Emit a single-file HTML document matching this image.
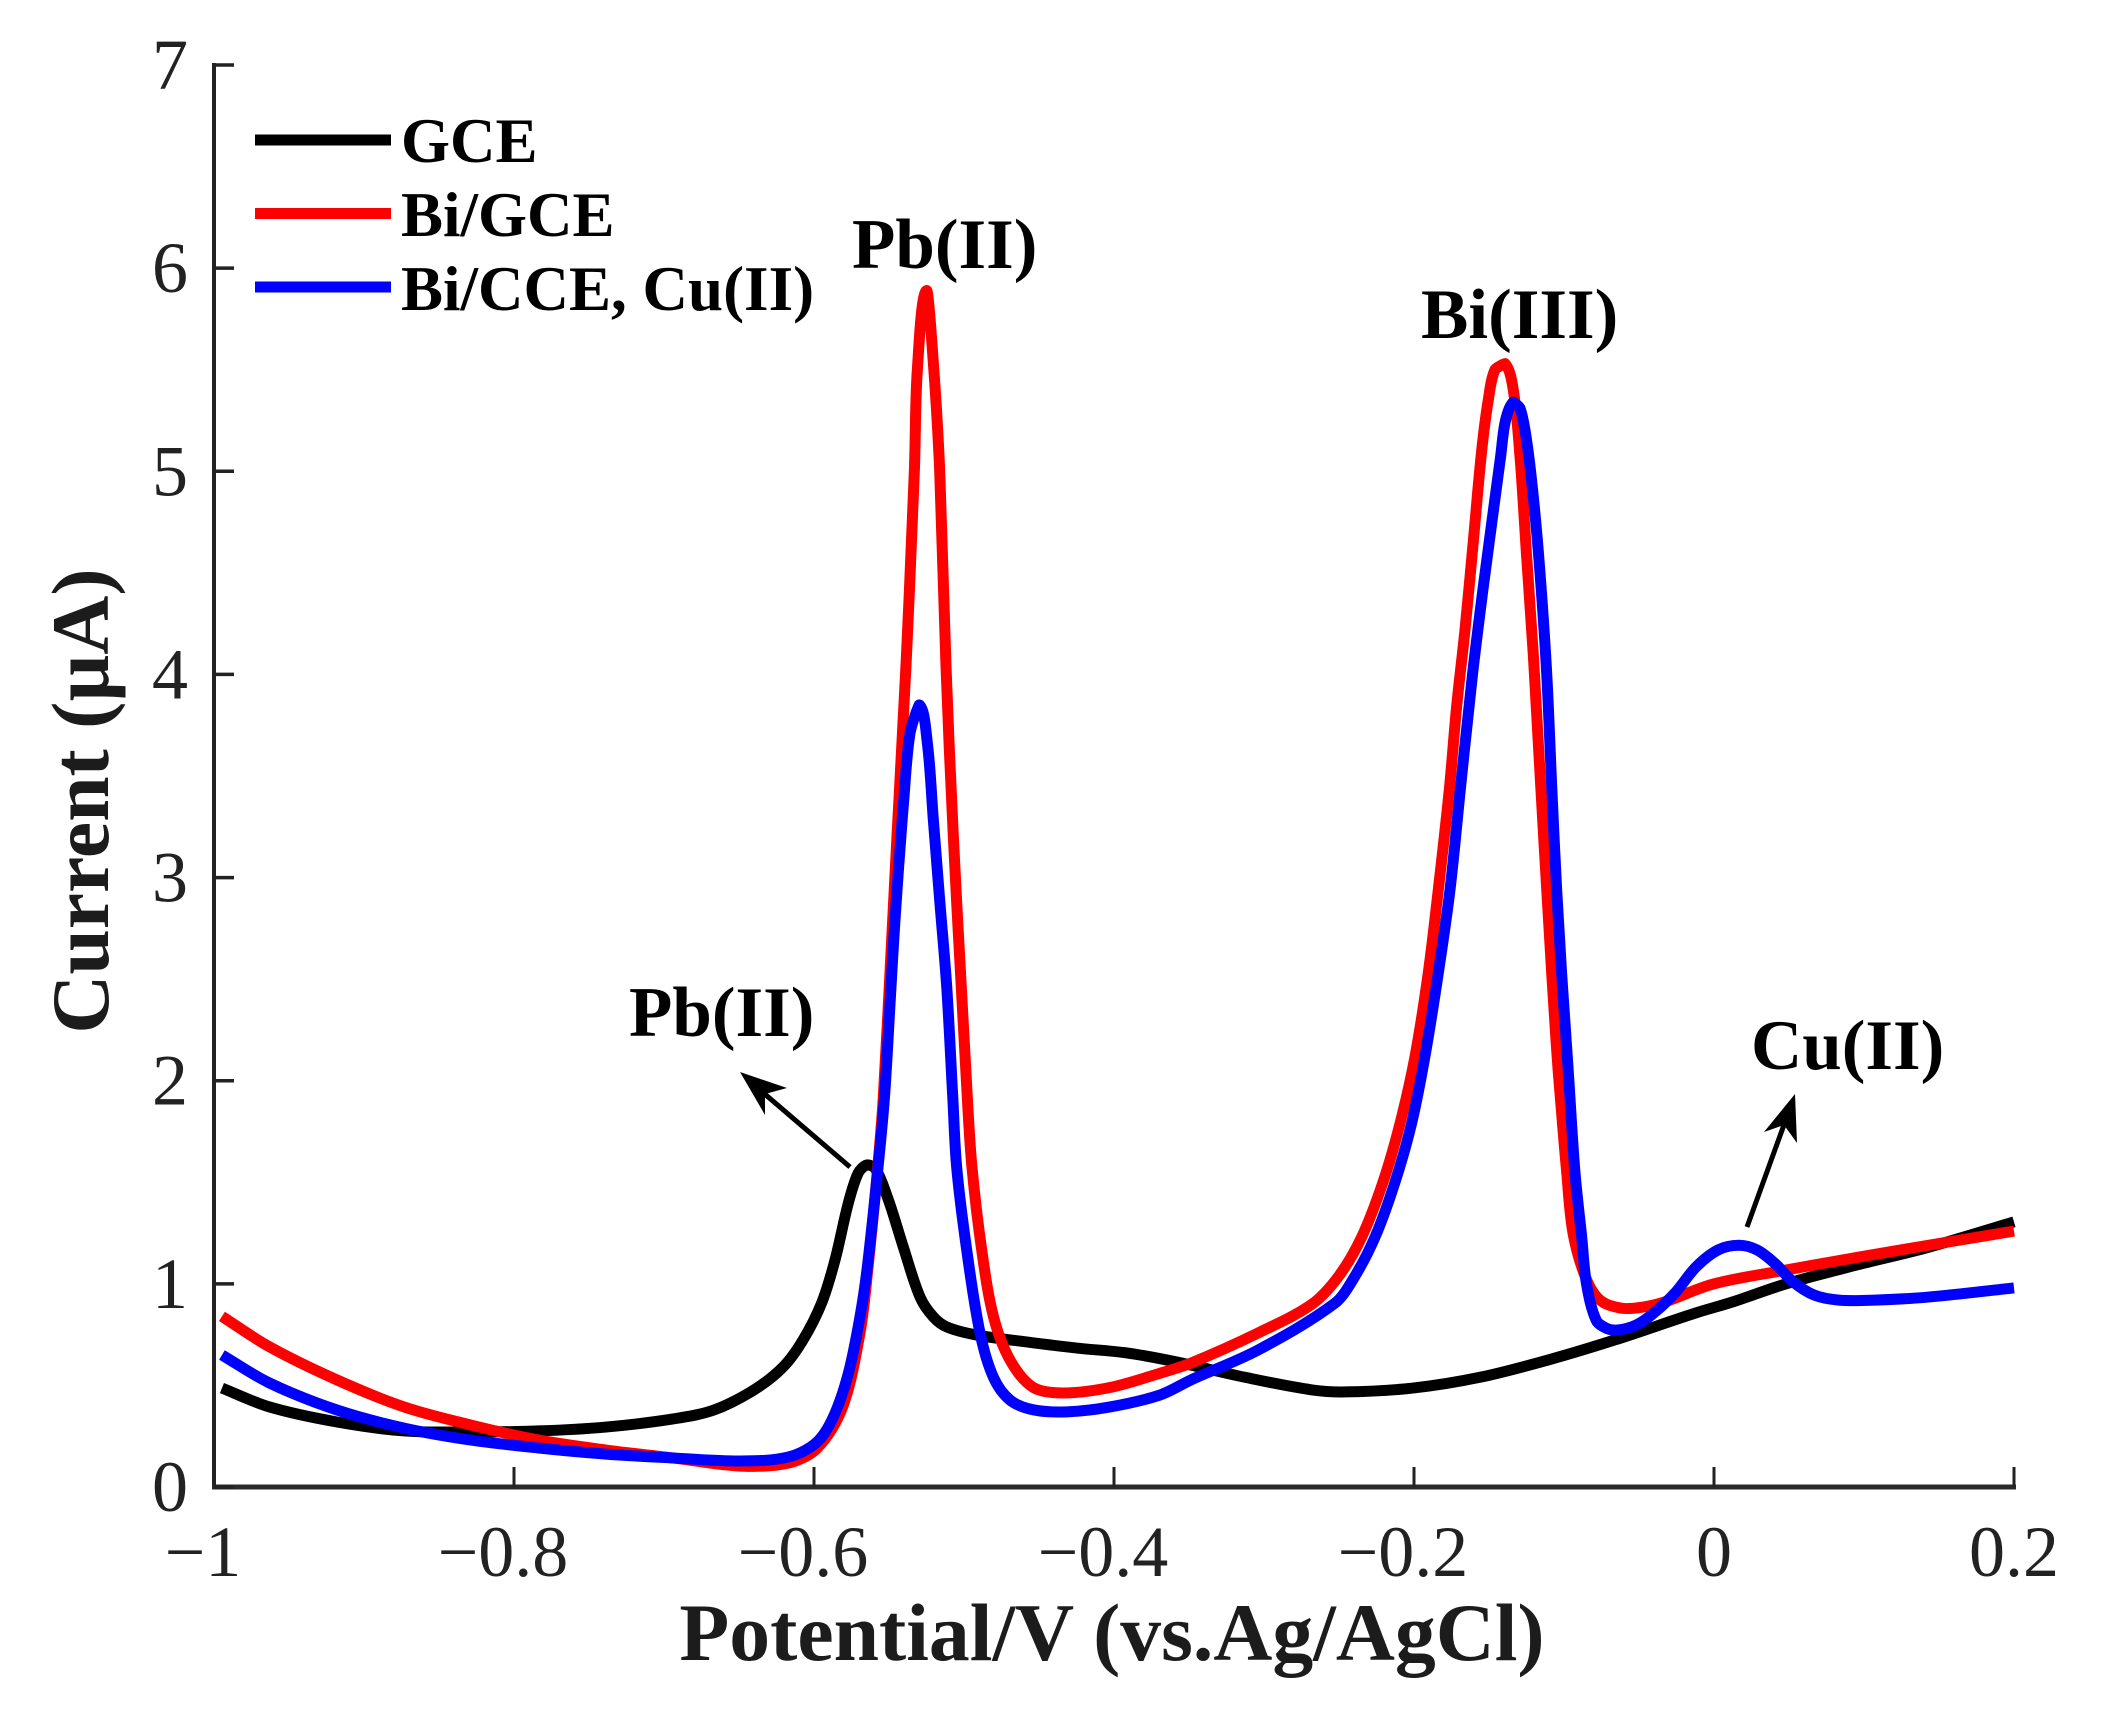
<!DOCTYPE html>
<html lang="en">
<head>
<meta charset="utf-8">
<title>Current vs potential chart</title>
<style>
html,body{margin:0;padding:0;background:#fff;width:2112px;height:1709px;overflow:hidden}
svg{display:block}
text{font-family:"Liberation Serif",serif}
.tick-label{font-size:72px;fill:#222}
.axis-title{font-size:81.7px;font-weight:bold;fill:#1c1c1c}
.legend-label{font-size:63px;font-weight:bold;fill:#000}
.annotation{font-size:71px;font-weight:bold;fill:#000}
</style>
</head>
<body>
<svg id="chart" xmlns="http://www.w3.org/2000/svg" width="2112" height="1709" viewBox="0 0 2112 1709">
  <g id="series-layer"></g>
  <g id="axes-layer"></g>

  <text class="axis-title" x="1112" y="1660" text-anchor="middle">Potential/V (vs.Ag/AgCl)</text>
  <text class="axis-title" transform="translate(108 801) rotate(-90)" text-anchor="middle">Current (µA)</text>

  <g>
    <g>
      <line x1="255" x2="391" y1="140" y2="140" stroke="#000" stroke-width="11"/>
      <text class="legend-label" x="401" y="162">GCE</text>
    </g>
    <g>
      <line x1="255" x2="391" y1="213.5" y2="213.5" stroke="#f00" stroke-width="11"/>
      <text class="legend-label" x="401" y="236">Bi/GCE</text>
    </g>
    <g>
      <line x1="255" x2="391" y1="287" y2="287" stroke="#00f" stroke-width="11"/>
      <text class="legend-label" x="401" y="310">Bi/CCE, Cu(II)</text>
    </g>
  </g>

  <text class="annotation" x="852" y="268">Pb(II)</text>
  <text class="annotation" x="1421" y="338">Bi(III)</text>
  <text class="annotation" x="629" y="1036">Pb(II)</text>
  <text class="annotation" x="1751" y="1069">Cu(II)</text>

  <g>
    <line x1="850" y1="1167" x2="760" y2="1090" stroke="#000" stroke-width="5"/>
    <polygon points="740,1072 787,1088 765,1094 765,1115" fill="#000"/>
  </g>
  <g>
    <line x1="1747" y1="1227" x2="1785" y2="1122" stroke="#000" stroke-width="5"/>
    <polygon points="1795,1094 1797,1143 1784,1125 1764,1132" fill="#000"/>
  </g>
</svg>
<script>
const xTicks = [-1, -0.8, -0.6, -0.4, -0.2, 0, 0.2];
const xTickLabels = ["−1", "−0.8", "−0.6", "−0.4", "−0.2", "0", "0.2"];
const yTicks = [0, 1, 2, 3, 4, 5, 6, 7];
const yTickLabels = ["0", "1", "2", "3", "4", "5", "6", "7"];

const gceX = [-0.9947,-0.963,-0.918,-0.8733,-0.8287,-0.7833,-0.7387,-0.694,-0.6667,-0.64,-0.6207,-0.6073,-0.5949,-0.586,-0.5771,-0.5705,-0.5649,-0.5593,-0.5504,-0.5404,-0.5293,-0.5204,-0.5115,-0.4915,-0.4582,-0.4249,-0.3915,-0.358,-0.3127,-0.268,-0.2453,-0.2007,-0.156,-0.1107,-0.066,-0.012,0.012,0.048,0.0953,0.143,0.2];
const gceY = [0.487,0.394,0.32,0.276,0.271,0.276,0.295,0.335,0.379,0.478,0.59,0.724,0.906,1.117,1.398,1.546,1.585,1.57,1.413,1.18,0.935,0.837,0.788,0.748,0.714,0.684,0.66,0.615,0.54,0.478,0.468,0.487,0.54,0.625,0.724,0.857,0.91,1.0,1.093,1.18,1.305];

const biGceX = [-0.9947,-0.963,-0.918,-0.8733,-0.8287,-0.7833,-0.7387,-0.694,-0.6487,-0.617,-0.598,-0.5811,-0.5693,-0.564,-0.5575,-0.5538,-0.5447,-0.5387,-0.5331,-0.5311,-0.5249,-0.5204,-0.5162,-0.512,-0.5071,-0.4977,-0.4947,-0.4882,-0.4804,-0.4693,-0.4538,-0.4338,-0.4027,-0.3693,-0.3487,-0.304,-0.268,-0.25,-0.2349,-0.2207,-0.2093,-0.1993,-0.1905,-0.1838,-0.1765,-0.1716,-0.166,-0.1604,-0.1549,-0.1505,-0.146,-0.1393,-0.1338,-0.1293,-0.1249,-0.1204,-0.1155,-0.1115,-0.1082,-0.1038,-0.0982,-0.094,-0.0855,-0.076,-0.0617,-0.0473,-0.0333,0,0.048,0.0953,0.143,0.2];
const biGceY = [0.84,0.69,0.527,0.394,0.305,0.231,0.182,0.143,0.103,0.118,0.19,0.39,0.76,1.08,1.575,1.92,3.2,4.04,5.0,5.5,5.89,5.53,5.0,4.04,3.2,1.905,1.575,1.167,0.84,0.625,0.49,0.463,0.49,0.56,0.61,0.758,0.9,1.04,1.23,1.5,1.79,2.12,2.53,2.94,3.43,3.84,4.22,4.66,5.1,5.35,5.5,5.53,5.4,5.07,4.58,4.09,3.45,2.94,2.53,2.04,1.55,1.25,1.03,0.92,0.88,0.886,0.91,1.0,1.068,1.13,1.19,1.26];

const biCceCuX = [-0.9947,-0.963,-0.918,-0.8733,-0.8287,-0.7833,-0.7387,-0.694,-0.6487,-0.617,-0.5982,-0.5871,-0.5771,-0.5693,-0.5645,-0.5573,-0.553,-0.5493,-0.5467,-0.5437,-0.5403,-0.536,-0.5298,-0.5244,-0.5204,-0.516,-0.5115,-0.5075,-0.5049,-0.4982,-0.4893,-0.4804,-0.4693,-0.4538,-0.4313,-0.4027,-0.3693,-0.3487,-0.304,-0.2527,-0.24,-0.226,-0.2127,-0.2016,-0.1927,-0.1838,-0.176,-0.1689,-0.161,-0.154,-0.149,-0.1423,-0.139,-0.1338,-0.1293,-0.1249,-0.1204,-0.116,-0.1115,-0.1082,-0.1049,-0.1016,-0.0971,-0.0927,-0.0882,-0.085,-0.0785,-0.0713,-0.064,-0.052,-0.0402,-0.026,-0.012,0.0027,0.0167,0.0287,0.0407,0.0527,0.0667,0.0833,0.107,0.143,0.2];
const biCceCuY = [0.65,0.512,0.379,0.29,0.231,0.192,0.162,0.143,0.128,0.148,0.22,0.345,0.56,0.84,1.08,1.575,1.92,2.38,2.71,3.04,3.37,3.71,3.85,3.66,3.28,2.87,2.46,1.92,1.575,1.167,0.758,0.54,0.428,0.38,0.37,0.394,0.453,0.527,0.674,0.905,1.03,1.23,1.5,1.79,2.12,2.53,2.94,3.45,4.0,4.42,4.7,5.07,5.25,5.34,5.31,5.15,4.87,4.5,4.0,3.45,2.94,2.53,2.04,1.55,1.23,1.0,0.82,0.78,0.773,0.797,0.856,0.955,1.083,1.167,1.19,1.167,1.1,1.01,0.945,0.92,0.92,0.935,0.98];

const SVG_NS = "http://www.w3.org/2000/svg";
const plotLeft = 214, plotRight = 2014, plotTop = 65, plotBottom = 1487;
const xMin = -1, xMax = 0.2, yMin = 0, yMax = 7;

function xScale(v) { return plotLeft + (v - xMin) / (xMax - xMin) * (plotRight - plotLeft); }
function yScale(v) { return plotBottom - (v - yMin) / (yMax - yMin) * (plotBottom - plotTop); }

function make(tag, attrs, parent) {
  const el = document.createElementNS(SVG_NS, tag);
  for (const k in attrs) el.setAttribute(k, attrs[k]);
  parent.appendChild(el);
  return el;
}

/* Parametric smooth path; handles shrink when the tangent disagrees with the chord, keeping sharp peaks sharp */
function curvePath(xs, ys) {
  const px = xs.map(xScale), py = ys.map(yScale), n = px.length;
  const tx = new Array(n), ty = new Array(n);
  for (let i = 0; i < n; i++) {
    const a = Math.max(i - 1, 0), b = Math.min(i + 1, n - 1);
    const dx = px[b] - px[a], dy = py[b] - py[a], len = Math.hypot(dx, dy) || 1;
    tx[i] = dx / len; ty[i] = dy / len;
  }
  let s = "M" + px[0].toFixed(2) + " " + py[0].toFixed(2);
  for (let i = 0; i < n - 1; i++) {
    const sx = px[i + 1] - px[i], sy = py[i + 1] - py[i], seg = Math.hypot(sx, sy) || 1;
    const d0 = Math.abs(tx[i] * sx + ty[i] * sy) / seg, d1 = Math.abs(tx[i + 1] * sx + ty[i + 1] * sy) / seg;
    const h0 = seg / 3 * d0 * d0, h1 = seg / 3 * d1 * d1;
    s += "C" + (px[i] + tx[i] * h0).toFixed(2) + " " + (py[i] + ty[i] * h0).toFixed(2) + " " +
         (px[i + 1] - tx[i + 1] * h1).toFixed(2) + " " + (py[i + 1] - ty[i + 1] * h1).toFixed(2) + " " +
         px[i + 1].toFixed(2) + " " + py[i + 1].toFixed(2);
  }
  return s;
}

const seriesLayer = document.getElementById("series-layer");
const axesLayer = document.getElementById("axes-layer");

const gceLine = make("path", { d: curvePath(gceX, gceY), fill: "none", stroke: "#000", "stroke-width": 11, "stroke-linejoin": "round" }, seriesLayer);



const biGceLine = make("path", { d: curvePath(biGceX, biGceY), fill: "none", stroke: "#f00", "stroke-width": 11, "stroke-linejoin": "round" }, seriesLayer);



const biCceCuLine = make("path", { d: curvePath(biCceCuX, biCceCuY), fill: "none", stroke: "#00f", "stroke-width": 11, "stroke-linejoin": "round" }, seriesLayer);



const yAxisLine = make("line", { x1: plotLeft, x2: plotLeft, y1: plotTop - 2, y2: plotBottom + 2, stroke: "#222", "stroke-width": 4 }, axesLayer);



const xAxisLine = make("line", { x1: plotLeft - 2, x2: plotRight + 2, y1: plotBottom, y2: plotBottom, stroke: "#2a2a2a", "stroke-width": 5 }, axesLayer);



yTicks.forEach(function (v, i) {
  const y = yScale(v);
  const tick = make("line", { x1: plotLeft, x2: plotLeft + 20, y1: y, y2: y, stroke: "#222", "stroke-width": 3.5 }, axesLayer);
  
  
  const label = make("text", { class: "tick-label", x: 188, y: y + 24, "text-anchor": "end" }, axesLayer);
  label.textContent = yTickLabels[i];
  
  
});

xTicks.forEach(function (v, i) {
  const x = xScale(v);
  const tick = make("line", { x1: x, x2: x, y1: plotBottom, y2: plotBottom - 20, stroke: "#222", "stroke-width": 3 }, axesLayer);
  
  
  const label = make("text", { class: "tick-label", x: v < 0 ? x - 11 : x, y: 1576, "text-anchor": "middle" }, axesLayer);
  label.textContent = xTickLabels[i];
  
  
});
</script>
</body>
</html>
